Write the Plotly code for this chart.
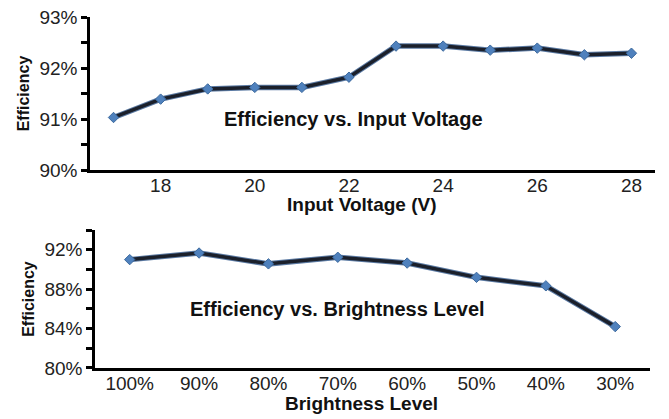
import plotly.graph_objects as go

# top panel: efficiency vs input voltage
voltage = [17, 18, 19, 20, 21, 22, 23, 24, 25, 26, 27, 28]
eff_voltage = [91.03, 91.39, 91.59, 91.62, 91.62, 91.82, 92.43, 92.43, 92.35, 92.39, 92.26, 92.29]

# bottom panel: efficiency vs brightness level
brightness = ['100%', '90%', '80%', '70%', '60%', '50%', '40%', '30%']
eff_brightness = [91.0, 91.67, 90.57, 91.24, 90.65, 89.2, 88.34, 84.2]

top_ticks = [90, 91, 92, 93]
bottom_ticks = [80, 84, 88, 92]

font_family = 'Liberation Sans, Arial, sans-serif'
line_col = '#1b202b'
edge_col = '#5b7aa3'
marker_col = '#4f81bd'

fig = go.Figure()

for xs, ys, xa, ya in [(voltage, eff_voltage, 'x', 'y'), (brightness, eff_brightness, 'x2', 'y2')]:
    # soft blue edge under the dark line
    fig.add_trace(go.Scatter(x=xs, y=ys, xaxis=xa, yaxis=ya, mode='lines',
                             line=dict(color=edge_col, width=5.5), hoverinfo='skip'))
    fig.add_trace(go.Scatter(x=xs, y=ys, xaxis=xa, yaxis=ya, mode='lines+markers',
                             line=dict(color=line_col, width=3.5),
                             marker=dict(symbol='diamond', size=8, color=marker_col,
                                         line=dict(color='#3d6a9e', width=1))))

axis_common = dict(showline=True, linecolor='black', linewidth=2.5, showgrid=False,
                   zeroline=False, automargin=False,
                   tickfont=dict(family=font_family, size=19, color='#222'))
ytitle_font = dict(family=font_family, size=16, color='#111')
xtitle_font = dict(family=font_family, size=19, color='#111')
tick_style = dict(ticks='outside', ticklen=6, tickwidth=2.5, tickcolor='black')

fig.update_layout(
    width=661, height=411,
    margin=dict(l=82, r=14, t=9, b=51),
    paper_bgcolor='white', plot_bgcolor='white',
    showlegend=False,
    font=dict(family=font_family),
    xaxis=dict(domain=[0, 1], anchor='y', range=[16.5, 28.5], tickvals=[18, 20, 22, 24, 26, 28],
               ticks='', ticklen=0, ticklabelstandoff=-4, **axis_common),
    yaxis=dict(domain=[0.564, 1.0], anchor='x', range=[90, 93], tickvals=top_ticks,
               ticktext=[f'{v}%' for v in top_ticks], ticklabeloverflow='allow',
               minor=dict(dtick=0.5, **tick_style),
               title=dict(text='<b>Efficiency</b>', font=ytitle_font, standoff=6),
               **tick_style, **axis_common),
    xaxis2=dict(domain=[0.0089, 0.991], anchor='y2', type='category', range=[-0.5, 7.5],
                ticks='', ticklen=0, ticklabelstandoff=-4, **axis_common),
    yaxis2=dict(domain=[0, 0.393], anchor='x2', range=[80, 94], tickvals=bottom_ticks,
                ticktext=[f'{v}%' for v in bottom_ticks],
                minor=dict(dtick=2, **tick_style),
                title=dict(text='<b>Efficiency</b>', font=ytitle_font, standoff=6),
                **tick_style, **axis_common),
    annotations=[
        dict(text='<b>Input Voltage (V)</b>', x=0.481, y=-0.222, xref='x domain', yref='y domain',
             yanchor='middle', showarrow=False, font=xtitle_font),
        dict(text='<b>Brightness Level</b>', x=0.481, y=-0.254, xref='x2 domain', yref='y2 domain',
             yanchor='middle', showarrow=False, font=xtitle_font),
        dict(text='<b>Efficiency vs. Input Voltage</b>', x=22.1, y=91.0, xref='x', yref='y',
             showarrow=False, font=dict(family=font_family, size=20, color='#111')),
        dict(text='<b>Efficiency vs. Brightness Level</b>', x=3.0, y=86.0, xref='x2', yref='y2',
             showarrow=False, font=dict(family=font_family, size=20, color='#111')),
    ],
)

fig.write_html('out.html')
